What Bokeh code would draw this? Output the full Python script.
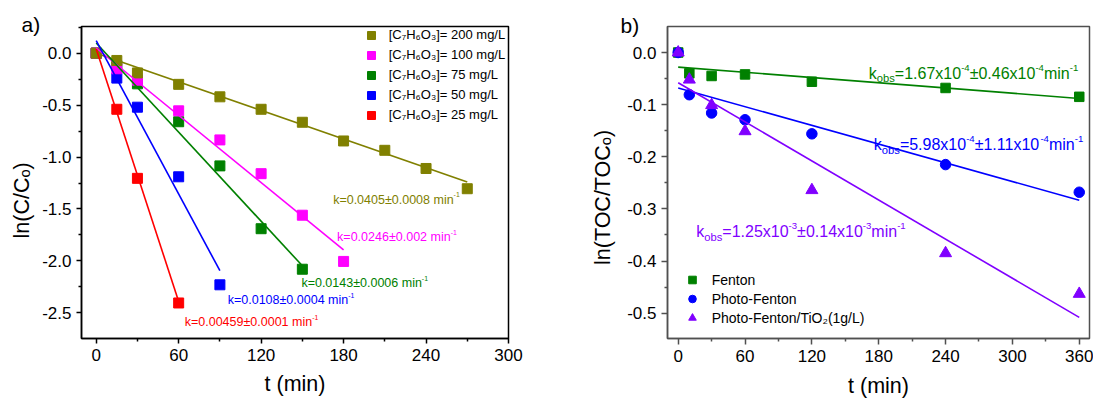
import math
from bokeh.plotting import figure
from bokeh.models import (Range1d, FixedTicker, NumeralTickFormatter,
                          Legend, LegendItem, ColumnDataSource)
from bokeh.layouts import row
from bokeh.embed import file_html
from bokeh.resources import INLINE
from bokeh.core.properties import value

FONT = "Liberation Sans"
NB = "\u00a0"

# ---------------- Panel a data ----------------
t200 = [0, 15, 30, 60, 90, 120, 150, 180, 210, 240, 270]
y200 = [0.0, -0.07, -0.19, -0.30, -0.42, -0.54, -0.665, -0.845, -0.935, -1.11, -1.305]
t100 = [0, 15, 30, 60, 90, 120, 150, 180]
y100 = [0.0, -0.15, -0.26, -0.555, -0.835, -1.16, -1.56, -2.005]
t75 = [0, 15, 30, 60, 90, 120, 150]
y75 = [0.0, -0.12, -0.295, -0.66, -1.085, -1.69, -2.08]
t50 = [0, 15, 30, 60, 90]
y50 = [0.0, -0.24, -0.52, -1.19, -2.23]
t25 = [0, 15, 30, 60]
y25 = [0.0, -0.54, -1.205, -2.405]

conc_labels = ["[C₇H₆O₃]= 200 mg/L", "[C₇H₆O₃]= 100 mg/L", "[C₇H₆O₃]= 75 mg/L",
               "[C₇H₆O₃]= 50 mg/L", "[C₇H₆O₃]= 25 mg/L"]
conc_colors = ["#808000", "#FF00FF", "#008000", "#0000FF", "#FF0000"]
# linear fits: intercept, slope, end time
fit_a_intercept = [0.0, 0.05, 0.098, 0.12, 0.04]
fit_a_slope = [-0.00459, -0.0108, -0.0143, -0.0246, -0.0405]
fit_a_tend = [270, 180, 150, 90, 60]
k_a_text = ["k=0.0405±0.0008 min", "k=0.0246±0.002 min", "k=0.0143±0.0006 min",
            "k=0.0108±0.0004 min", "k=0.00459±0.0001 min"]
k_a_pos = [(172.4, -1.369), (175.3, -1.730), (149.3, -2.174), (95.7, -2.338), (64.4, -2.546)]

# ---------------- Panel b data ----------------
tb = [0, 10, 30, 60, 120, 240, 360]
fenton = [0.0, -0.040, -0.045, -0.042, -0.056, -0.068, -0.085]
photo = [0.0, -0.081, -0.116, -0.129, -0.156, -0.215, -0.268]
tio2 = [0.0, -0.052, -0.101, -0.151, -0.264, -0.385, -0.463]
b_labels = ["Fenton", "Photo-Fenton", "Photo-Fenton/TiO₂(1g/L)"]
b_colors = ["#008000", "#0000FF", "#8000FF"]
fit_b_intercept = [-0.028, -0.068, -0.058]
fit_b_slope = [-1.67e-4, -5.98e-4, -1.25e-3]
k_b_parts = [["1.67x10", "-4", "±0.46x10", "-4"],
             ["5.98x10", "-4", "±1.11x10", "-4"],
             ["1.25x10", "-3", "±0.14x10", "-3"]]
k_b_pos = [(171.1, -0.0292), (175.6, -0.166), (16.2, -0.333)]

# Arial / Liberation Sans advance widths (per 1000 em)
W = {'k': 500, '=': 584, '.': 278, '±': 549, ' ': 278, 'm': 833, 'i': 222, 'n': 556,
     '-': 333, 'x': 500, 'o': 556, 'b': 556, 's': 500}
for d in "0123456789":
    W[d] = 556


def text_width(s, size):
    return sum(W.get(c, 556) for c in s) * size / 1000.0


def rich_text(p, x, y, segs, color, size, sup=0.6, sub=0.7, sup_raise=0.35, sub_drop=0.3):
    xs, ys, ts, xo, yo, fs = [], [], [], [], [], []
    off = 0.0
    base = 0.358 * size
    for s, kind in segs:
        if kind == "n":
            f, dy = size, base
        elif kind == "^":
            f, dy = size * sup, base - sup_raise * size
        else:
            f, dy = size * sub, base + sub_drop * size
        xs.append(x); ys.append(y); ts.append(s); xo.append(off); yo.append(dy)
        fs.append("%.2fpx" % f)
        off += text_width(s, f)
    src = ColumnDataSource(dict(x=xs, y=ys, text=ts, xo=xo, yo=yo, fs=fs))
    p.text(x="x", y="y", text="text", x_offset="xo", y_offset="yo", text_font_size="fs",
           source=src, text_color=color, text_font=value(FONT), text_align="left",
           text_baseline="alphabetic")


def style_axis(ax, color, major_out, minor_out):
    ax.axis_line_color = color
    ax.axis_line_width = 1.5
    ax.major_tick_line_color = color
    ax.minor_tick_line_color = color
    ax.major_tick_line_width = 1.5
    ax.minor_tick_line_width = 1.5
    ax.major_tick_in = 0
    ax.minor_tick_in = 0
    ax.major_tick_out = major_out
    ax.minor_tick_out = minor_out
    ax.major_label_text_font = FONT
    ax.major_label_text_color = "black"
    ax.major_label_text_font_size = "17px"
    ax.major_label_standoff = 5
    ax.axis_label_text_font = FONT
    ax.axis_label_text_font_size = "21.5px"
    ax.axis_label_text_font_style = "normal"
    ax.axis_label_text_color = "black"


def make_panel(width, xr, yr, borders, xt, xmt, yt, ymt, axcolor, tick_out,
               xstandoff, ylabel, ystandoff, tag, tag_offset, tag_standoff):
    p = figure(width=width, height=401, output_backend="svg", toolbar_location=None,
               x_range=Range1d(*xr), y_range=Range1d(*yr),
               min_border_left=borders[0], min_border_right=borders[1],
               min_border_top=borders[2], min_border_bottom=borders[3])
    p.grid.visible = False
    p.outline_line_color = axcolor
    p.outline_line_width = 1.5
    p.outline_line_alpha = 1.0
    p.background_fill_color = "white"
    p.border_fill_color = "white"
    xa = p.xaxis[0]
    ya = p.yaxis[0]
    xa.ticker = FixedTicker(ticks=xt, minor_ticks=xmt)
    ya.ticker = FixedTicker(ticks=yt, minor_ticks=ymt)
    xa.formatter = NumeralTickFormatter(format="0")
    ya.formatter = NumeralTickFormatter(format="0.0")
    style_axis(xa, axcolor, tick_out, 3)
    style_axis(ya, axcolor, tick_out, 3)
    xa.axis_label = "t (min)"
    xa.axis_label_standoff = xstandoff
    ya.axis_label = ylabel
    ya.axis_label_standoff = ystandoff
    # panel tag "a)" / "b)" as plot title pulled down beside the frame top
    p.title.text = tag
    p.title.align = "left"
    p.title.offset = tag_offset
    p.title.standoff = tag_standoff
    p.title.vertical_align = "bottom"
    p.title.text_font = FONT
    p.title.text_font_size = "21px"
    p.title.text_font_style = "normal"
    p.title.text_color = "black"
    return p


# ---------------- Panel a ----------------
pa = make_panel(546, (-10.7, 300.0), (-2.747, 0.257), (81, 38, 24, 61),
                [0, 60, 120, 180, 240, 300], [30, 90, 150, 210, 270],
                [-2.5, -2.0, -1.5, -1.0, -0.5, 0.0],
                [-2.75, -2.25, -1.75, -1.25, -0.75, -0.25, 0.25],
                "black", 5, 8, "ln(C/Cₒ)" + NB * 6, 5, "a)", -60, -18)

series_a = [(t200, y200), (t100, y100), (t75, y75), (t50, y50), (t25, y25)]
rend_a = [None] * 5
for i in reversed(range(5)):
    t, y = series_a[i]
    rend_a[i] = pa.scatter(t, y, marker="square", size=10, color=conc_colors[i])
for i in range(5):
    xs = [0, fit_a_tend[i]]
    ys = [fit_a_intercept[i] + fit_a_slope[i] * v for v in xs]
    pa.line(xs, ys, line_color=conc_colors[i], line_width=1.6)
for i in range(5):
    rich_text(pa, k_a_pos[i][0], k_a_pos[i][1], [(k_a_text[i], "n"), ("-1", "^")],
              conc_colors[i], 12.5, sup=0.55, sup_raise=0.4)

leg_a = Legend(items=[LegendItem(label=conc_labels[i], renderers=[rend_a[i]]) for i in range(5)],
               location=(279.7, 213.3), orientation="vertical", padding=0, margin=0, spacing=0,
               glyph_width=20, glyph_height=20, label_height=20, label_standoff=8,
               label_text_font=FONT, label_text_font_size="13px", label_text_color="black",
               border_line_color=None, background_fill_alpha=0)
pa.add_layout(leg_a)

# ---------------- Panel b ----------------
pb = make_panel(547, (-9.6, 369.2), (-0.5486, 0.0499), (121, 4, 26, 63),
                [0, 60, 120, 180, 240, 300, 360], [30, 90, 150, 210, 270, 330],
                [-0.5, -0.4, -0.3, -0.2, -0.1, 0.0],
                [-0.55, -0.45, -0.35, -0.25, -0.15, -0.05, 0.05],
                "#505050", 6, 9, "ln(TOC/TOCₒ)" + NB * 5, 9, "b)", -47, -20)

r_f = pb.scatter(tb, fenton, marker="square", size=9.5, color=b_colors[0])
r_p = pb.scatter(tb, photo, marker="circle", size=10.5, color=b_colors[1])
r_t = pb.scatter(tb, tio2, marker="triangle", size=12, color=b_colors[2])
for i in range(3):
    xs = [0, 360]
    ys = [fit_b_intercept[i] + fit_b_slope[i] * v for v in xs]
    pb.line(xs, ys, line_color=b_colors[i], line_width=1.6)
for i in range(3):
    parts = k_b_parts[i]
    segs = [("k", "n"), ("obs", "_"), ("=" + parts[0], "n"), (parts[1], "^"),
            (parts[2], "n"), (parts[3], "^"), ("min", "n"), ("-1", "^")]
    rich_text(pb, k_b_pos[i][0], k_b_pos[i][1], segs, b_colors[i], 16)

leg_b = Legend(items=[LegendItem(label=b_labels[0], renderers=[r_f]),
                      LegendItem(label=b_labels[1], renderers=[r_p]),
                      LegendItem(label=b_labels[2], renderers=[r_t])],
               location=(14.7, 11), orientation="vertical", padding=0, margin=0, spacing=0,
               glyph_width=20, glyph_height=19, label_height=19, label_standoff=10,
               label_text_font=FONT, label_text_font_size="14px", label_text_color="black",
               border_line_color=None, background_fill_alpha=0)
pb.add_layout(leg_b)

layout = row(pa, pb)
open("out.html", "w").write(file_html(layout, INLINE))
